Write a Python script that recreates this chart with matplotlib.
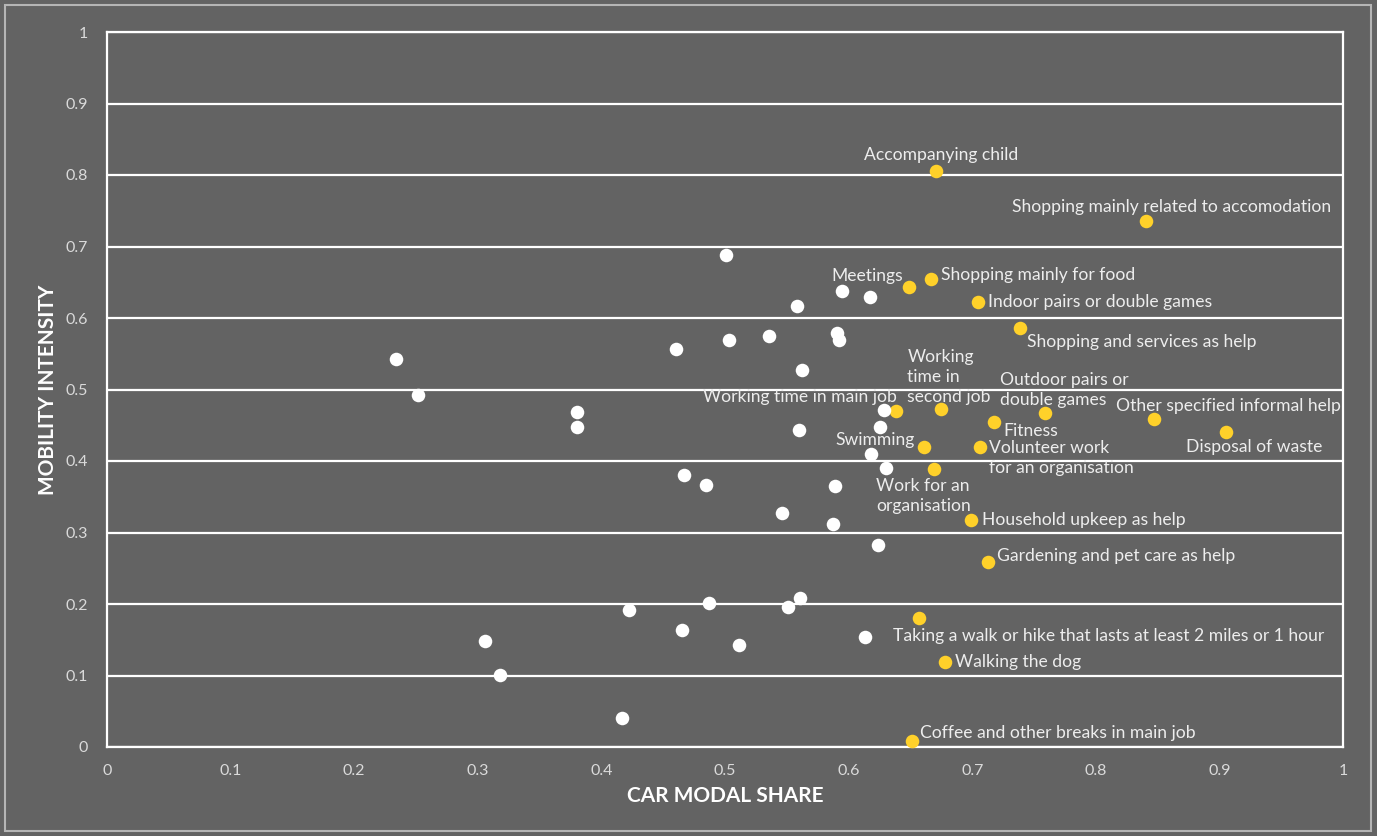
import matplotlib
matplotlib.use("Agg")
import matplotlib.pyplot as plt
from matplotlib.patches import Rectangle

# ---------------- data ----------------
white_x = [0.234, 0.252, 0.380, 0.380, 0.460, 0.501, 0.503, 0.536, 0.558, 0.595,
           0.617, 0.591, 0.592, 0.562, 0.629, 0.625, 0.560, 0.618, 0.630, 0.467,
           0.485, 0.589, 0.546, 0.587, 0.624, 0.422, 0.487, 0.561, 0.551, 0.465,
           0.511, 0.613, 0.306, 0.318, 0.417]
white_y = [0.543, 0.492, 0.469, 0.448, 0.557, 0.688, 0.569, 0.575, 0.617, 0.638,
           0.629, 0.579, 0.569, 0.527, 0.471, 0.448, 0.443, 0.410, 0.390, 0.380,
           0.366, 0.365, 0.327, 0.312, 0.283, 0.192, 0.201, 0.208, 0.196, 0.164,
           0.143, 0.154, 0.148, 0.101, 0.041]

yellow_labels = [
    "Accompanying child",
    "Shopping mainly related to accomodation",
    "Meetings",
    "Shopping mainly for food",
    "Indoor pairs or double games",
    "Shopping and services as help",
    "Working time in main job",
    "Working\ntime in\nsecond job",
    "Outdoor pairs or\ndouble games",
    "Fitness",
    "Other specified informal help",
    "Disposal of waste",
    "Swimming",
    "Volunteer work\nfor an organisation",
    "Work for an\norganisation",
    "Household upkeep as help",
    "Gardening and pet care as help",
    "Taking a walk or hike that lasts at least 2 miles or 1 hour",
    "Walking the dog",
    "Coffee and other breaks in main job",
]
yellow_x = [0.671, 0.841, 0.649, 0.667, 0.705, 0.739, 0.638, 0.675, 0.759, 0.718,
            0.847, 0.905, 0.661, 0.706, 0.669, 0.699, 0.713, 0.657, 0.678, 0.651]
yellow_y = [0.806, 0.736, 0.643, 0.655, 0.622, 0.586, 0.470, 0.473, 0.467, 0.455,
            0.459, 0.441, 0.420, 0.420, 0.389, 0.317, 0.259, 0.180, 0.119, 0.008]

x_ticks = [0, 0.1, 0.2, 0.3, 0.4, 0.5, 0.6, 0.7, 0.8, 0.9, 1]
y_ticks = [0, 0.1, 0.2, 0.3, 0.4, 0.5, 0.6, 0.7, 0.8, 0.9, 1]
tick_labels = ["0", "0.1", "0.2", "0.3", "0.4", "0.5", "0.6", "0.7", "0.8", "0.9", "1"]

# label placement (offset in pixels from the point, horizontal alignment)
label_style = [
    ((5, 16), "center"),
    ((25, 14), "center"),
    ((-6, 11), "right"),
    ((10, 4), "left"),
    ((10, 0), "left"),
    ((7, -14), "left"),
    ((1, 14), "right"),
    ((-34, 32), "left"),
    ((-45, 23), "left"),
    ((9, -9), "left"),
    ((-38, 13), "left"),
    ((-40, -15), "left"),
    ((-9, 7), "right"),
    ((9, -11), "left"),
    ((-58, -27), "left"),
    ((11, 0), "left"),
    ((9, 6), "left"),
    ((-26, -18), "left"),
    ((10, 0), "left"),
    ((8, 8), "left"),
]

# ---------------- style ----------------
BG = "#636363"
YELLOW = "#FFD12A"
TXT = "#EDEDED"
TICK = "#DADADA"
FONT = ["Lato", "DejaVu Sans"]

plt.rcParams["font.family"] = FONT

fig = plt.figure(figsize=(13.77, 8.36), dpi=100, facecolor=BG)
W, H = 1377, 836
ax = fig.add_axes([107 / W, 1 - 747 / H, (1343 - 107) / W, (747 - 32) / H])
ax.set_facecolor(BG)

ax.set_xlim(0, 1)
ax.set_ylim(0, 1)
ax.set_xticks(x_ticks)
ax.set_xticklabels(tick_labels)
ax.set_yticks(y_ticks)
ax.set_yticklabels(tick_labels)
ax.tick_params(axis="both", length=0, colors=TICK, labelsize=11.5)
ax.tick_params(axis="x", pad=12)
ax.tick_params(axis="y", pad=14)

ax.grid(axis="y", color="white", lw=1.6)
ax.set_axisbelow(True)
for s in ax.spines.values():
    s.set_color("white")
    s.set_linewidth(1.6)

ax.scatter(yellow_x, yellow_y, s=95, color=YELLOW, zorder=3, clip_on=False, linewidths=0)
ax.scatter(white_x, white_y, s=95, color="white", zorder=4, clip_on=False, linewidths=0)

for lab, x, y, (off, ha) in zip(yellow_labels, yellow_x, yellow_y, label_style):
    ax.annotate(lab, (x, y), xytext=off, textcoords="offset pixels",
                ha=ha, va="center", color=TXT, fontsize=12.6,
                linespacing=1.3, zorder=5)

ax.set_xlabel("CAR MODAL SHARE", color="white", fontsize=15, fontweight="bold", labelpad=6)
ax.set_ylabel("MOBILITY INTENSITY", color="white", fontsize=15, fontweight="bold", labelpad=5)

# outer chart frame
fig.patches.append(Rectangle((5 / W, 5 / H), 1366 / W, 826 / H, transform=fig.transFigure,
                             fill=False, edgecolor="#B5B5B5", lw=1.5))

fig.savefig("out.png", dpi=100, facecolor=BG)
